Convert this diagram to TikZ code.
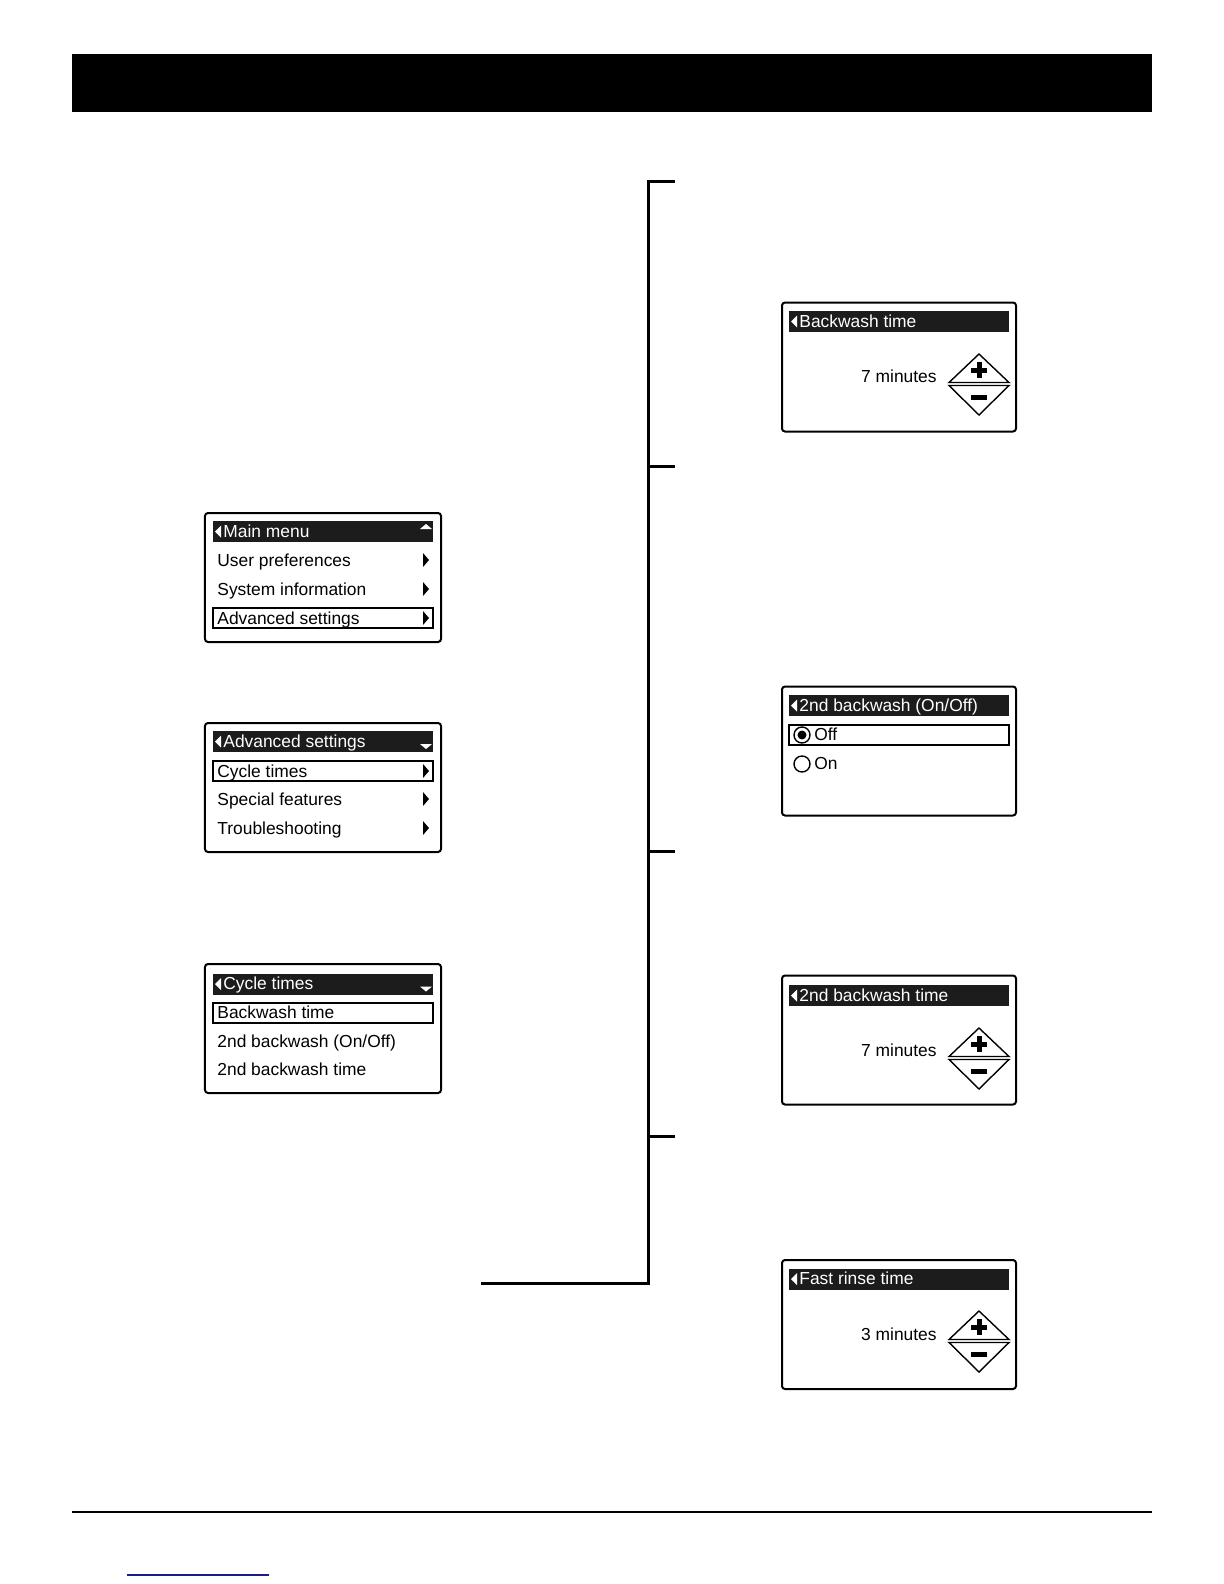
\documentclass[tikz,border=0pt]{standalone}
\usepackage{fontspec}
\setmainfont{Liberation Sans}
\usepackage{tikz}
\usepackage{xcolor}
\definecolor{linkblue}{RGB}{20,30,140}
\definecolor{barblack}{RGB}{28,28,28}

\tikzset{
  screen/.style={draw,line width=1bp,rounded corners=1.5bp,minimum width=117bp,minimum height=64.5bp,inner sep=0pt},
  bar/.style={fill=barblack,minimum width=110bp,minimum height=10.5bp,inner sep=0pt},
  selrow/.style={draw,line width=0.7bp,minimum width=110bp,minimum height=10bp,inner sep=0pt},
  txt/.style={inner sep=0pt,text height=6.3bp,text depth=1.8bp,font=\fontsize{8.7bp}{10bp}\selectfont},
  bartext/.style={txt,anchor=west,text=white},
  rowtext/.style={txt,anchor=west},
  valtext/.style={txt,anchor=east},
  bracket/.style={line width=1.5bp}
}

\begin{document}
\begin{tikzpicture}[x=0.5bp,y=-0.5bp]
  \useasboundingbox (0,0) rectangle (1224,1584);
  % header and footer
  \fill (72,54) rectangle (1152,112);
  \draw[line width=1bp] (72,1512) -- (1152,1512);
  \draw[linkblue,line width=1bp] (127,1575) -- (269,1575);

  % main menu
  \node[screen,minimum width=118bp] (mainscr) at (323,577.5) {};
  \node[bar] (mainbar) at (323,531.5) {};
  \fill[white] (215,531.5) -- (221,525.5) -- (221,537.5) -- cycle;
  \node[bartext] (maintitle) at (223,532.5) {Main menu};
  \fill[white] (420,529) -- (426,524) -- (432,529) -- cycle;
  \node[rowtext] (userpref) at (217,561.5) {User preferences};
  \node[rowtext] (sysinfo) at (217,590.5) {System information};
  \node[selrow] (advrow) at (323,618) {};
  \node[rowtext] (advsel) at (217,619.5) {Advanced settings};
  \foreach \y in {560,589,618}
    \fill (423,\y-7) -- (429,\y) -- (423,\y+7) -- cycle;

  % advanced settings
  \node[screen,minimum width=118bp] (advscr) at (323,787.5) {};
  \node[bar] (advbar) at (323,741.5) {};
  \fill[white] (215,741.5) -- (221,735.5) -- (221,747.5) -- cycle;
  \node[bartext] (advtitle) at (223,742.5) {Advanced settings};
  \fill[white] (420,744) -- (432,744) -- (426,749) -- cycle;
  \node[selrow] (cycrow) at (323,771) {};
  \node[rowtext] (cycsel) at (217,772.5) {Cycle times};
  \node[rowtext] (special) at (217,800.5) {Special features};
  \node[rowtext] (trouble) at (217,829.5) {Troubleshooting};
  \foreach \y in {771,799,828}
    \fill (423,\y-7) -- (429,\y) -- (423,\y+7) -- cycle;

  % cycle times
  \node[screen,minimum width=118bp] (cycscr) at (323,1028.5) {};
  \node[bar] (cycbar) at (323,984) {};
  \fill[white] (215,984) -- (221,978) -- (221,990) -- cycle;
  \node[bartext] (cyctitle) at (223,985) {Cycle times};
  \fill[white] (420,986.5) -- (432,986.5) -- (426,991.5) -- cycle;
  \node[selrow] (bwrow) at (323,1013) {};
  \node[rowtext] (bwsel) at (217,1014) {Backwash time};
  \node[rowtext] (bw2) at (217,1042.5) {2nd backwash (On/Off)};
  \node[rowtext] (bw2t) at (217,1071) {2nd backwash time};

  % bracket
  \coordinate (btop) at (648,181);
  \coordinate (bbot) at (648,1283);
  \coordinate (bleft) at (481,1283);
  \draw[bracket] (675,181) -- (btop) -- (bbot) -- (bleft);
  \foreach \y in {466,851,1136}
    \draw[bracket] (648,\y) -- (675,\y);

  % backwash time
  \node[screen] (bwscr) at (899,367) {};
  \node[bar] (bwbar) at (899,321.5) {};
  \fill[white] (791,321.5) -- (797,315.5) -- (797,327.5) -- cycle;
  \node[bartext] (bwtitle) at (799,322.5) {Backwash time};
  \node[valtext] (bwval) at (937,378) {7 minutes};

  % 2nd backwash on/off
  \node[screen] (onoffscr) at (899,751) {};
  \node[bar] (onoffbar) at (899,705.5) {};
  \fill[white] (791,705.5) -- (797,699.5) -- (797,711.5) -- cycle;
  \node[bartext] (onofftitle) at (799,706.5) {2nd backwash (On/Off)};
  \node[selrow] (offrow) at (899,735) {};
  \draw[line width=0.7bp] (802,735) circle (8);
  \fill (802,735) circle (4.5);
  \node[rowtext] (offtext) at (814,736) {Off};
  \draw[line width=0.7bp] (802,764) circle (8);
  \node[rowtext] (ontext) at (814,765) {On};

  % 2nd backwash time
  \node[screen] (bw2scr) at (899,1040) {};
  \node[bar] (bw2bar) at (899,995.5) {};
  \fill[white] (791,995.5) -- (797,989.5) -- (797,1001.5) -- cycle;
  \node[bartext] (bw2title) at (799,996.5) {2nd backwash time};
  \node[valtext] (bw2val) at (937,1052) {7 minutes};

  % fast rinse time
  \node[screen] (rinsescr) at (899,1324.5) {};
  \node[bar] (rinsebar) at (899,1279) {};
  \fill[white] (791,1279) -- (797,1273) -- (797,1285) -- cycle;
  \node[bartext] (rinsetitle) at (799,1280) {Fast rinse time};
  \node[valtext] (rinseval) at (937,1336) {3 minutes};

  % plus / minus buttons
  \foreach \m in {384,1058,1341} {
    \draw[line width=0.7bp] (949,\m-1.5) -- (979,\m-30) -- (1009,\m-1.5) -- cycle;
    \draw[line width=0.7bp] (949,\m+1.5) -- (979,\m+31) -- (1009,\m+1.5) -- cycle;
    \fill (971,\m-16.5) rectangle (987,\m-11.5);
    \fill (976.5,\m-22) rectangle (981.5,\m-6);
    \fill (971,\m+11) rectangle (987,\m+16);
  }
\end{tikzpicture}
\end{document}
